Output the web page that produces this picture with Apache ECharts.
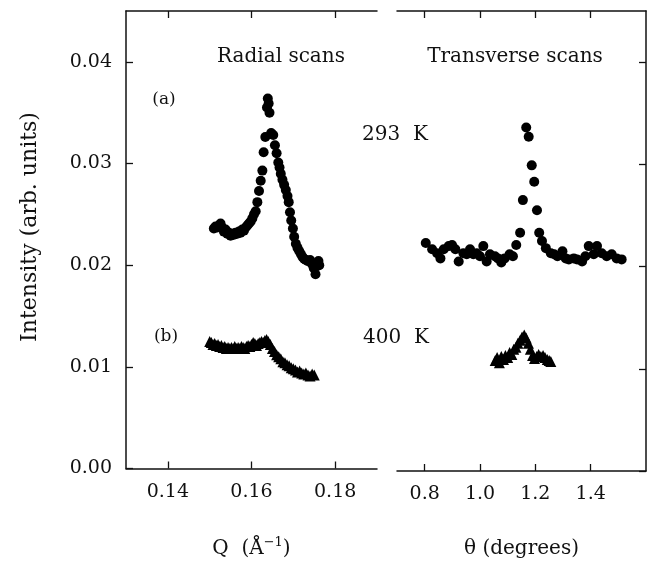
<!DOCTYPE html>
<html>
<head>
<meta charset="UTF-8">
<title>Radial and transverse scans</title>
<script src="https://cdn.jsdelivr.net/npm/echarts@6/dist/echarts.min.js"></script>
<style>
  html, body { margin: 0; padding: 0; background: #fff; }
  #chart { width: 647px; height: 564px; }
</style>
</head>
<body>
<div id="chart"></div>
<script>
// tick values
var yTicks = [0, 0.01, 0.02, 0.03, 0.04];
var qTicks = [0.14, 0.16, 0.18];
var thetaTicks = [0.8, 1.0, 1.2, 1.4];

// (a) 293 K radial scan, [Q, intensity]
var radialA = [
  [0.1510,0.0236],[0.1514,0.0238],[0.1518,0.0237],[0.1522,0.0239],[0.1526,0.0241],
  [0.1530,0.0237],[0.1534,0.0233],[0.1538,0.0235],[0.1542,0.0231],[0.1546,0.0232],
  [0.1550,0.0229],[0.1554,0.0231],[0.1558,0.0230],[0.1562,0.0232],[0.1566,0.0231],
  [0.1570,0.0233],[0.1574,0.0232],[0.1578,0.0235],[0.1582,0.0234],[0.1586,0.0237],
  [0.1590,0.0239],[0.1594,0.0241],[0.1598,0.0243],[0.1602,0.0246],[0.1606,0.0250],
  [0.1610,0.0253],[0.1614,0.0262],[0.1618,0.0273],[0.1622,0.0283],[0.1626,0.0293],
  [0.1629,0.0311],[0.1633,0.0326],[0.1637,0.0355],[0.1639,0.0364],[0.1641,0.0359],
  [0.1643,0.0350],[0.1647,0.0330],[0.1652,0.0328],[0.1656,0.0318],[0.1660,0.0310],
  [0.1664,0.0301],[0.1667,0.0296],[0.1670,0.0290],[0.1674,0.0284],[0.1678,0.0279],
  [0.1682,0.0274],[0.1686,0.0268],[0.1689,0.0262],[0.1692,0.0252],[0.1695,0.0244],
  [0.1699,0.0236],[0.1702,0.0228],[0.1706,0.0221],[0.1710,0.0217],[0.1714,0.0214],
  [0.1718,0.0211],[0.1722,0.0208],[0.1726,0.0206],[0.1730,0.0205],[0.1735,0.0204],
  [0.1740,0.0205],[0.1745,0.0201],[0.1749,0.0197],[0.1753,0.0191],[0.1756,0.0199],
  [0.1760,0.0204],[0.1762,0.0200]
];

// (b) 400 K radial scan
var radialB = [
  [0.1500,0.0125],[0.1504,0.0124],[0.1508,0.0122],[0.1512,0.0123],[0.1516,0.0121],
  [0.1520,0.0122],[0.1524,0.0120],[0.1528,0.0121],[0.1532,0.0119],[0.1536,0.0120],
  [0.1540,0.0118],[0.1544,0.0119],[0.1548,0.0118],[0.1552,0.0119],[0.1556,0.0118],
  [0.1560,0.0120],[0.1564,0.0118],[0.1568,0.0119],[0.1572,0.0118],[0.1576,0.0120],
  [0.1580,0.0119],[0.1584,0.0118],[0.1588,0.0120],[0.1592,0.0121],[0.1596,0.0120],
  [0.1600,0.0122],[0.1604,0.0124],[0.1608,0.0123],[0.1612,0.0121],[0.1616,0.0123],
  [0.1620,0.0124],[0.1624,0.0125],[0.1628,0.0124],[0.1632,0.0126],[0.1636,0.0127],
  [0.1640,0.0125],[0.1645,0.0122],[0.1650,0.0118],[0.1655,0.0115],[0.1660,0.0112],
  [0.1665,0.0110],[0.1670,0.0108],[0.1675,0.0105],[0.1680,0.0104],[0.1685,0.0102],
  [0.1690,0.0101],[0.1695,0.0099],[0.1700,0.0098],[0.1705,0.0097],[0.1710,0.0095],
  [0.1715,0.0096],[0.1720,0.0094],[0.1725,0.0093],[0.1730,0.0094],[0.1735,0.0092],
  [0.1740,0.0091],[0.1745,0.0093],[0.1750,0.0092]
];

// (a) 293 K transverse scan, [theta, intensity]
var transA = [
  [0.804,0.0223],[0.827,0.0217],[0.845,0.0213],[0.857,0.0208],[0.869,0.0217],
  [0.887,0.0220],[0.899,0.0221],[0.911,0.0217],[0.923,0.0205],[0.940,0.0213],
  [0.952,0.0212],[0.964,0.0217],[0.976,0.0212],[0.988,0.0213],[1.000,0.0210],
  [1.012,0.0220],[1.024,0.0205],[1.036,0.0212],[1.054,0.0210],[1.065,0.0208],
  [1.077,0.0204],[1.089,0.0208],[1.107,0.0212],[1.119,0.0210],[1.131,0.0221],
  [1.145,0.0233],[1.155,0.0265],[1.167,0.0336],[1.176,0.0327],[1.187,0.0299],
  [1.196,0.0283],[1.206,0.0255],[1.214,0.0233],[1.224,0.0225],[1.238,0.0218],
  [1.256,0.0213],[1.268,0.0212],[1.280,0.0210],[1.298,0.0215],[1.310,0.0208],
  [1.321,0.0207],[1.339,0.0208],[1.351,0.0207],[1.369,0.0205],[1.381,0.0210],
  [1.393,0.0220],[1.411,0.0212],[1.423,0.0220],[1.440,0.0213],[1.458,0.0210],
  [1.476,0.0212],[1.494,0.0208],[1.512,0.0207]
];

// (b) 400 K transverse scan
var transB = [
  [1.055,0.0108],[1.062,0.0111],[1.070,0.0106],[1.077,0.0112],[1.085,0.0109],
  [1.092,0.0113],[1.100,0.0111],[1.107,0.0116],[1.115,0.0114],[1.122,0.0119],
  [1.130,0.0121],[1.137,0.0125],[1.145,0.0128],[1.152,0.0131],[1.160,0.0133],
  [1.167,0.0130],[1.175,0.0125],[1.182,0.0119],[1.190,0.0113],[1.197,0.0110],
  [1.205,0.0112],[1.212,0.0114],[1.220,0.0112],[1.228,0.0113],[1.235,0.0111],
  [1.243,0.0109],[1.250,0.0108],[1.256,0.0107]
];

var font = '"DejaVu Serif", serif';
var line = { lineStyle: { color: '#111', width: 1.5 } };

function xAxisBottom(grid, min, max, ticks, digits, name) {
  return {
    type: 'value', gridIndex: grid, min: min, max: max, position: 'bottom',
    splitLine: { show: false },
    axisLine: line,
    axisTick: { inside: true, length: 7, lineStyle: { color: '#111', width: 1.3 }, customValues: ticks },
    axisLabel: { customValues: ticks, margin: 14, color: '#111', fontFamily: font, fontSize: 19,
      formatter: function (v) { return v.toFixed(digits); } },
    name: name, nameLocation: 'middle', nameGap: 68,
    nameTextStyle: { color: '#111', fontFamily: font, fontSize: 20,
      rich: { sup: { fontFamily: font, fontSize: 13, color: '#111', verticalAlign: 'top', padding: [0, 0, 12, 0] } } }
  };
}
function xAxisTop(grid, min, max, ticks) {
  return {
    type: 'value', gridIndex: grid, min: min, max: max, position: 'top',
    splitLine: { show: false },
    axisLine: line,
    axisTick: { inside: true, length: 7, lineStyle: { color: '#111', width: 1.3 }, customValues: ticks },
    axisLabel: { show: false }
  };
}

var dot = { color: '#000', opacity: 1 };

var chart = echarts.init(document.getElementById('chart'));
chart.setOption({
  backgroundColor: '#fff',
  animation: false,
  grid: [
    { left: 126, top: 11, width: 251, height: 462 },
    { left: 397, top: 11, width: 249, height: 462 }
  ],
  xAxis: [
    xAxisBottom(0, 0.13, 0.19, qTicks, 2, 'Q  (Å{sup|−1})'),
    xAxisBottom(1, 0.7, 1.6, thetaTicks, 1, 'θ (degrees)'),
    xAxisTop(0, 0.13, 0.19, qTicks),
    xAxisTop(1, 0.7, 1.6, thetaTicks)
  ],
  yAxis: [
    {
      type: 'value', gridIndex: 0, min: 0, max: 0.045, position: 'left',
      splitLine: { show: false },
      axisLine: line,
      axisTick: { inside: true, length: 7, lineStyle: { color: '#111', width: 1.3 }, customValues: yTicks },
      axisLabel: { customValues: yTicks, margin: 14, color: '#111', fontFamily: font, fontSize: 19,
        formatter: function (v) { return v.toFixed(2); } }
    },
    {
      type: 'value', gridIndex: 1, min: 0, max: 0.045, position: 'right',
      splitLine: { show: false },
      axisLine: line,
      axisTick: { inside: true, length: 7, lineStyle: { color: '#111', width: 1.3 }, customValues: yTicks },
      axisLabel: { show: false }
    }
  ],
  series: [
    { type: 'scatter', xAxisIndex: 0, yAxisIndex: 0, data: radialA, symbol: 'circle', symbolSize: 10, itemStyle: dot },
    { type: 'scatter', xAxisIndex: 0, yAxisIndex: 0, data: radialB, symbol: 'triangle', symbolSize: 11, itemStyle: dot },
    { type: 'scatter', xAxisIndex: 1, yAxisIndex: 1, data: transA, symbol: 'circle', symbolSize: 10, itemStyle: dot },
    { type: 'scatter', xAxisIndex: 1, yAxisIndex: 1, data: transB, symbol: 'triangle', symbolSize: 11, itemStyle: dot }
  ],
  graphic: [
    { type: 'text', x: 30, y: 227, rotation: Math.PI / 2,
      style: { text: 'Intensity (arb. units)', fontFamily: font, fontSize: 22, fill: '#111', align: 'center', verticalAlign: 'middle' } },
    { type: 'text', x: 281, y: 57,
      style: { text: 'Radial scans', fontFamily: font, fontSize: 20, fill: '#111', align: 'center', verticalAlign: 'middle' } },
    { type: 'text', x: 515, y: 57,
      style: { text: 'Transverse scans', fontFamily: font, fontSize: 20, fill: '#111', align: 'center', verticalAlign: 'middle' } },
    { type: 'text', x: 164, y: 100,
      style: { text: '(a)', fontFamily: font, fontSize: 17, fill: '#111', align: 'center', verticalAlign: 'middle' } },
    { type: 'text', x: 166, y: 337,
      style: { text: '(b)', fontFamily: font, fontSize: 17, fill: '#111', align: 'center', verticalAlign: 'middle' } },
    { type: 'text', x: 395, y: 135,
      style: { text: '293  K', fontFamily: font, fontSize: 20, fill: '#111', align: 'center', verticalAlign: 'middle' } },
    { type: 'text', x: 396, y: 338,
      style: { text: '400  K', fontFamily: font, fontSize: 20, fill: '#111', align: 'center', verticalAlign: 'middle' } }
  ]
});
</script>
</body>
</html>
